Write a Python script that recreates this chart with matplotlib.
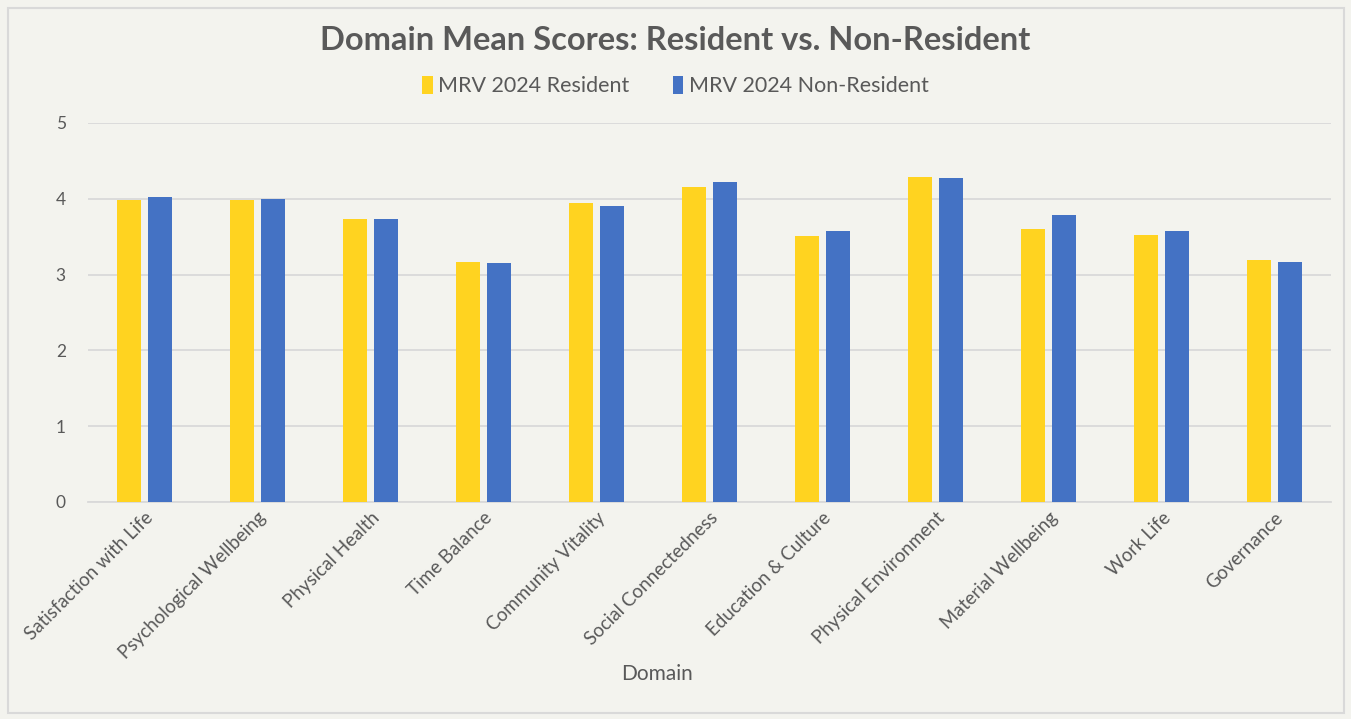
import numpy as np
import matplotlib
matplotlib.use("Agg")
import matplotlib.pyplot as plt
from matplotlib.patches import Rectangle

domains = [
    "Satisfaction with Life",
    "Psychological Wellbeing",
    "Physical Health",
    "Time Balance",
    "Community Vitality",
    "Social Connectedness",
    "Education & Culture",
    "Physical Environment",
    "Material Wellbeing",
    "Work Life",
    "Governance",
]
resident = [3.99, 3.99, 3.74, 3.16, 3.95, 4.16, 3.51, 4.29, 3.60, 3.52, 3.19]
non_resident = [4.03, 4.00, 3.73, 3.15, 3.90, 4.22, 3.58, 4.28, 3.79, 3.58, 3.17]
series_names = ["MRV 2024 Resident", "MRV 2024 Non-Resident"]

bg = "#f3f3ee"
txt = "#595959"
yellow = "#ffd320"
blue = "#4472c4"

plt.rcParams["font.family"] = ["Lato", "DejaVu Sans"]

fig = plt.figure(figsize=(13.51, 7.19), dpi=100, facecolor=bg)
ax = fig.add_axes([88 / 1351, 1 - 502 / 719, (1331 - 88) / 1351, (502 - 123) / 719])
ax.set_facecolor(bg)

# light frame around the chart area
fig.patches.append(Rectangle((8 / 1351, 6 / 719), 1336 / 1351, 705 / 719,
                             transform=fig.transFigure, fill=False,
                             edgecolor="#d9d9d9", lw=1.5))

x = np.arange(len(domains))
w = 0.215
off = 0.14
ax.bar(x - off, resident, w, color=yellow, label=series_names[0], zorder=3)
ax.bar(x + off, non_resident, w, color=blue, label=series_names[1], zorder=3)

ax.set_xlim(-0.5, len(domains) - 0.5)
ax.set_ylim(0, 5)
ax.set_yticks(range(6))
ax.yaxis.grid(True, color="#d9d9d9", lw=1.3, zorder=0)
ax.tick_params(axis="both", length=0, colors=txt, labelsize=12.5)
ax.tick_params(axis="y", pad=16)
for s in ["top", "right", "left"]:
    ax.spines[s].set_visible(False)
ax.spines["bottom"].set_color("#d9d9d9")
ax.spines["bottom"].set_linewidth(1.3)

ax.set_xticks(x)
ax.set_xticklabels(domains, rotation=45, ha="right", rotation_mode="anchor",
                   fontsize=13.5, color=txt)
ax.tick_params(axis="x", pad=5)

fig.text(0.5, 1 - 40 / 719, "Domain Mean Scores: Resident vs. Non-Resident",
         ha="center", va="center", fontsize=23.5, fontweight="bold", color=txt)
fig.text(657 / 1351, 1 - 674 / 719, "Domain", ha="center", va="center",
         fontsize=15, color=txt)

leg = fig.legend(loc="center", bbox_to_anchor=(0.5, 1 - 86 / 719), ncol=2,
                 frameon=False, fontsize=15.5, handlelength=0.5, handleheight=0.9,
                 handletextpad=0.25, columnspacing=2.0, labelcolor=txt)

fig.savefig("out.png", dpi=100, facecolor=bg)
